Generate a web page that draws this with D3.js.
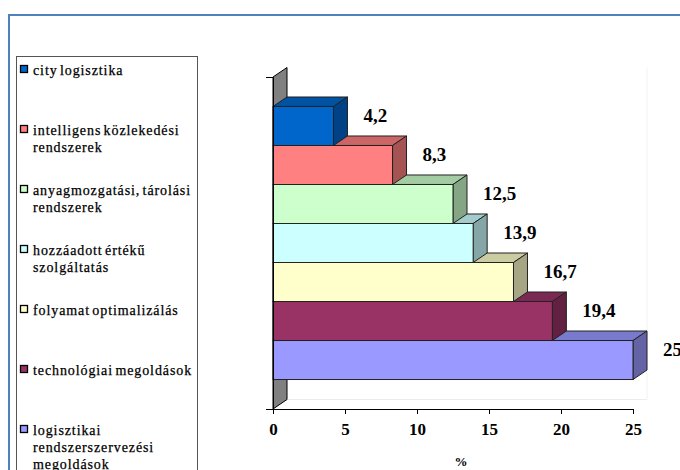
<!DOCTYPE html>
<html>
<head>
<meta charset="utf-8">
<script src="https://cdn.jsdelivr.net/npm/d3@7"></script>
<style>
  html, body { margin: 0; padding: 0; background: #fff; }
  svg { display: block; }
</style>
</head>
<body>
<svg id="chart" width="680" height="470"></svg>
<script>
// Category order, top to bottom
const categories = [
  "city logisztika",
  "intelligens közlekedési rendszerek",
  "anyagmozgatási, tárolási rendszerek",
  "hozzáadott értékű szolgáltatás",
  "folyamat optimalizálás",
  "technológiai megoldások",
  "logisztikai rendszerszervezési megoldások"
];
// Share of answers, %
const values = [4.2, 8.3, 12.5, 13.9, 16.7, 19.4, 25];
const colors = ["#0066CC", "#FF8080", "#CCFFCC", "#CCFFFF", "#FFFFCC", "#993366", "#9999FF"];
// Legend text broken into lines
const legendLines = [
  ["city logisztika"],
  ["intelligens közlekedési", "rendszerek"],
  ["anyagmozgatási, tárolási", "rendszerek"],
  ["hozzáadott értékű", "szolgáltatás"],
  ["folyamat optimalizálás"],
  ["technológiai megoldások"],
  ["logisztikai", "rendszerszervezési", "megoldások"]
];
const xTicks = [0, 5, 10, 15, 20, 25];
const xTitle = "%";

const svg = d3.select("#chart");
const serif = "Liberation Serif, Times New Roman, serif";

// Outer frame
svg.append("rect")
  .attr("x", 9).attr("y", 15).attr("width", 700).attr("height", 500)
  .attr("fill", "none").attr("stroke", "#4F81BD").attr("stroke-width", 2);

// Scales
const x = d3.scaleLinear().domain([0, 25]).range([273, 633]);
const y = d3.scaleBand().domain(categories).range([77, 409])
  .paddingInner(0).paddingOuter(0.756);
const bw = y.bandwidth();
const dx = 14, dy = -9.5;   // 3D depth offset
const yTop = 77, yBottom = 409;

const plot = svg.append("g");

// Back wall / floor hairlines
plot.append("line")
  .attr("x1", x(0) + dx).attr("x2", x(25) + dx)
  .attr("y1", yBottom + dy).attr("y2", yBottom + dy)
  .attr("stroke", "#ececec");
plot.append("line")
  .attr("x1", x(25) + dx).attr("x2", x(25) + dx)
  .attr("y1", yTop + dy).attr("y2", yBottom + dy)
  .attr("stroke", "#f2f2f2");

// Side wall
plot.append("polygon")
  .attr("points", [
    [x(0), yBottom], [x(0), yTop], [x(0) + dx, yTop + dy], [x(0) + dx, yBottom + dy]
  ].map(p => p.join(",")).join(" "))
  .attr("fill", "#808080").attr("stroke", "#000").attr("stroke-width", 1);

// Bars: draw from the bottom up so upper bars cover lower top faces
const shade = (c, k) => {
  const r = d3.rgb(c);
  return d3.rgb(r.r * k, r.g * k, r.b * k).formatHex();
};
const idx = d3.range(categories.length).reverse();
idx.forEach(i => {
  const v = values[i];
  const x0 = x(0), x1 = x(v);
  const t = y(categories[i]), b = t + bw;
  const g = plot.append("g");
  g.append("polygon")
    .attr("points", [[x0, t], [x0 + dx, t + dy], [x1 + dx, t + dy], [x1, t]].map(p => p.join(",")).join(" "))
    .attr("fill", shade(colors[i], 0.8)).attr("stroke", "#222").attr("stroke-width", 1)
    .attr("stroke-linejoin", "round");
  g.append("polygon")
    .attr("points", [[x1, t], [x1 + dx, t + dy], [x1 + dx, b + dy], [x1, b]].map(p => p.join(",")).join(" "))
    .attr("fill", shade(colors[i], 0.65)).attr("stroke", "#222").attr("stroke-width", 1)
    .attr("stroke-linejoin", "round");
  g.append("rect")
    .attr("x", x0).attr("y", t).attr("width", x1 - x0).attr("height", bw)
    .attr("fill", colors[i]).attr("stroke", "#222").attr("stroke-width", 1);
});

// Value labels
plot.selectAll("text.val")
  .data(categories)
  .join("text")
  .attr("class", "val")
  .attr("x", (d, i) => x(values[i]) + 30)
  .attr("y", d => y(d) + bw / 2 - 11)
  .attr("dy", "0.35em")
  .attr("font-family", serif).attr("font-weight", "bold").attr("font-size", 19)
  .attr("fill", "#000")
  .text((d, i) => String(values[i]).replace(".", ","));

// Category axis (no labels, end ticks only)
const yEdge = d3.scaleLinear().domain([0, 1]).range([yBottom, yTop]);
svg.append("g")
  .attr("transform", `translate(${x(0)},0)`)
  .call(d3.axisLeft(yEdge).tickValues([0, 1]).tickFormat("").tickSize(7).tickSizeOuter(0))
  .call(g => g.selectAll("line, path").attr("stroke", "#000"));

// Value axis
svg.append("g")
  .attr("transform", `translate(0,${yBottom})`)
  .call(d3.axisBottom(x).tickValues(xTicks).tickSize(5).tickSizeOuter(0).tickPadding(9))
  .call(g => g.selectAll("line, path").attr("stroke", "#000"))
  .call(g => g.selectAll("text")
    .attr("font-family", serif).attr("font-weight", "bold").attr("font-size", 17)
    .attr("fill", "#000"));

svg.append("text")
  .attr("x", 461).attr("y", 466)
  .attr("text-anchor", "middle")
  .attr("font-family", serif).attr("font-weight", "bold").attr("font-size", 13)
  .attr("fill", "#000")
  .text(xTitle);

// Legend
const legend = svg.append("g");
legend.append("rect")
  .attr("x", 16.5).attr("y", 56.5).attr("width", 181).attr("height", 440)
  .attr("fill", "#fff").attr("stroke", "#555").attr("stroke-width", 1);

const items = legend.selectAll("g.item")
  .data(categories)
  .join("g")
  .attr("class", "item")
  .attr("transform", (d, i) => `translate(0,${69 + i * 60})`);

items.append("rect")
  .attr("x", 20.5).attr("y", -3.5).attr("width", 7).attr("height", 7)
  .attr("fill", (d, i) => colors[i]).attr("stroke", "#000").attr("stroke-width", 1.3);

items.append("text")
  .attr("font-family", serif).attr("font-size", 14)
  .attr("letter-spacing", 0.9).attr("word-spacing", -2)
  .attr("fill", "#000").attr("stroke", "#000").attr("stroke-width", 0.25)
  .selectAll("tspan")
  .data((d, i) => legendLines[i])
  .join("tspan")
  .attr("x", 33)
  .attr("y", (l, j) => 5.5 + j * 17)
  .text(l => l);
</script>
</body>
</html>
